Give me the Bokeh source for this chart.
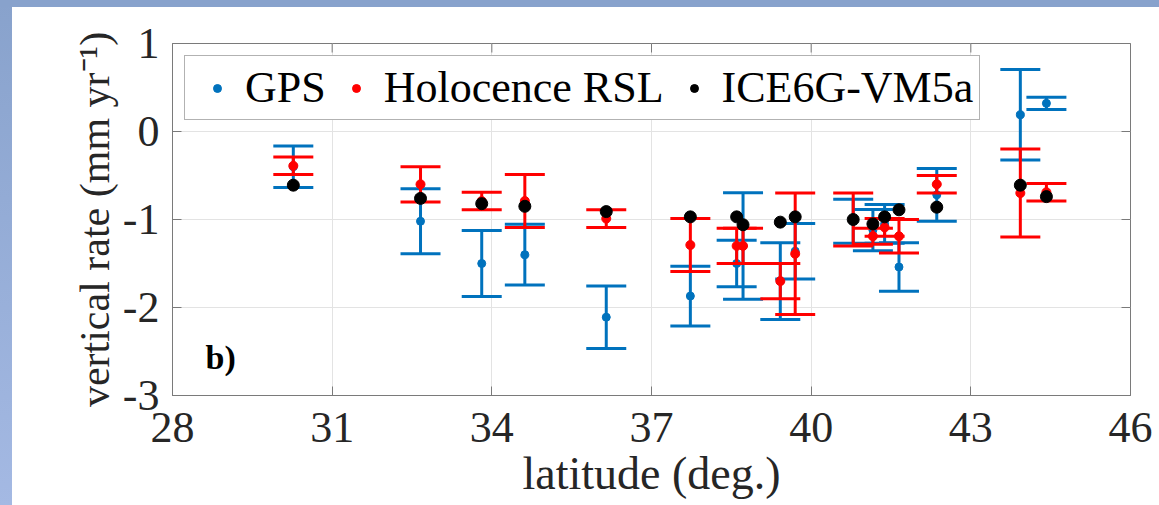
import math
from bokeh.plotting import figure
from bokeh.models import (FixedTicker, Legend, LegendItem, Label,
                          Range1d, ColumnDataSource)
from bokeh.embed import file_html
from bokeh.resources import INLINE

# ---- data ----
lat = [30.27, 32.66, 33.81, 34.62, 36.15, 37.73, 38.60, 38.72, 39.42, 39.70,
       40.79, 41.16, 41.38, 41.65, 42.36, 43.93, 44.42]
gps_rate = [-0.40, -1.02, -1.50, -1.40, -2.11, -1.87, -1.50, -1.30, -1.70, -1.36,
            -1.02, -1.12, -1.05, -1.54, -0.72, 0.19, 0.32]
gps_err = [0.235, 0.37, 0.375, 0.345, 0.355, 0.34, 0.265, 0.605, 0.435, 0.315,
           0.25, 0.235, 0.22, 0.275, 0.30, 0.515, 0.07]
rsl_rate = [-0.39, -0.60, -0.79, -0.79, -0.99, -1.29, -1.30, -1.30, -1.70, -1.39,
            -1.00, -1.19, -1.09, -1.19, -0.60, -0.70, -0.69]
rsl_err = [0.10, 0.20, 0.10, 0.30, 0.10, 0.30, 0.20, 0.20, 0.20, 0.69,
           0.30, 0.09, 0.10, 0.19, 0.10, 0.50, 0.10]
ice_rate = [-0.61, -0.76, -0.82, -0.85, -0.91, -0.97, -0.97, -1.06, -1.03, -0.97,
            -1.00, -1.05, -0.97, -0.89, -0.86, -0.61, -0.74]

x_ticks = [28, 31, 34, 37, 40, 43, 46]
y_ticks = [-3, -2, -1, 0, 1]
x_tick_labels = ["28", "31", "34", "37", "40", "43", "46"]
y_tick_labels = ["-3", "-2", "-1", "0", "1"]
series_names = ["GPS", "Holocence RSL", "ICE6G-VM5a"]

FONT = "Liberation Serif"
TXT = "#262626"
AX = "#7a7a7a"
CAP = 40
TICK = 9

p = figure(width=1159, height=505, output_backend="svg", toolbar_location=None,
           x_range=Range1d(28, 46), y_range=Range1d(-3, 1),
           min_border_left=172, min_border_right=29, min_border_top=43,
           min_border_bottom=110)
p.background_fill_color = "white"
p.border_fill_color = None
# slide-like blue edges (top and left) behind a transparent border
p.styles = {
    "background": ("linear-gradient(#88a2cc, #88a2cc) 0 0 / 100% 7px no-repeat, "
                   "linear-gradient(to bottom, #88a2cc, #a4b9e3) 0 0 / 12px 100% no-repeat, "
                   "#ffffff"),
}
p.outline_line_color = AX
p.outline_line_width = 1

p.xgrid.grid_line_color = "#e3e3e3"
p.ygrid.grid_line_color = "#e3e3e3"
p.xgrid.ticker = FixedTicker(ticks=x_ticks)
p.ygrid.ticker = FixedTicker(ticks=y_ticks)


def style_axis(ax, ticks, labels):
    ax.ticker = FixedTicker(ticks=ticks)
    ax.major_label_overrides = {t: l for t, l in zip(ticks, labels)}
    ax.minor_tick_line_color = None
    ax.major_tick_in = TICK
    ax.major_tick_out = 0
    ax.major_tick_line_color = AX
    ax.axis_line_color = AX
    ax.major_label_text_font = FONT
    ax.major_label_text_font_size = "44px"
    ax.major_label_text_color = TXT
    ax.axis_label_text_font = FONT
    ax.axis_label_text_font_style = "normal"
    ax.axis_label_text_color = TXT


style_axis(p.xaxis[0], x_ticks, x_tick_labels)
style_axis(p.yaxis[0], y_ticks, y_tick_labels)
p.xaxis[0].axis_label = "latitude (deg.)"
p.xaxis[0].axis_label_text_font_size = "46px"
p.xaxis[0].major_label_standoff = 17
p.xaxis[0].axis_label_standoff = 3
p.yaxis[0].axis_label = "vertical rate (mm yr\u207b\u00b9)"
p.yaxis[0].axis_label_text_font_size = "42px"
p.yaxis[0].major_label_standoff = 13
p.yaxis[0].axis_label_standoff = 2

# inward ticks on the top and right edges of the box (clipped to the frame)
p.scatter(x_ticks, [y_ticks[-1]] * len(x_ticks), marker="dash", angle=math.pi / 2,
          size=2 * TICK, line_color=AX, line_width=1)
p.scatter([x_ticks[-1]] * len(y_ticks), y_ticks, marker="dash",
          size=2 * TICK, line_color=AX, line_width=1)


def errorbar(vals, errs, color, dot):
    lo = [v - e for v, e in zip(vals, errs)]
    hi = [v + e for v, e in zip(vals, errs)]
    src = ColumnDataSource(dict(x=lat, y=vals, lo=lo, hi=hi))
    p.segment(x0="x", y0="lo", x1="x", y1="hi", source=src,
              line_color=color, line_width=3)
    p.scatter("x", "hi", marker="dash", size=CAP, line_color=color,
              line_width=3, source=src)
    p.scatter("x", "lo", marker="dash", size=CAP, line_color=color,
              line_width=3, source=src)
    return p.scatter("x", "y", marker="circle", size=dot, fill_color=color,
                     line_color=color, source=src)


r_gps = errorbar(gps_rate, gps_err, "#0072BD", 8)
r_rsl = errorbar(rsl_rate, rsl_err, "#FF0000", 9)
r_ice = p.scatter(lat, ice_rate, marker="circle", size=12,
                  fill_color="black", line_color="black")

legend = Legend(items=[LegendItem(label=series_names[0], renderers=[r_gps]),
                       LegendItem(label=series_names[1], renderers=[r_rsl]),
                       LegendItem(label=series_names[2], renderers=[r_ice])],
                orientation="horizontal", location=(12, 275),
                label_text_font=FONT, label_text_font_size="44px",
                label_text_color="black",
                glyph_width=52, glyph_height=20, label_standoff=2,
                spacing=4, padding=6, margin=0,
                border_line_color="#666666", border_line_width=1,
                background_fill_color="white", background_fill_alpha=1)
p.add_layout(legend)

p.add_layout(Label(x=28.62, y=-2.57, text="b)", text_font=FONT,
                   text_font_size="34px", text_font_style="bold",
                   text_baseline="middle", text_align="left", text_color="black"))

open("out.html", "w").write(file_html(p, INLINE))
